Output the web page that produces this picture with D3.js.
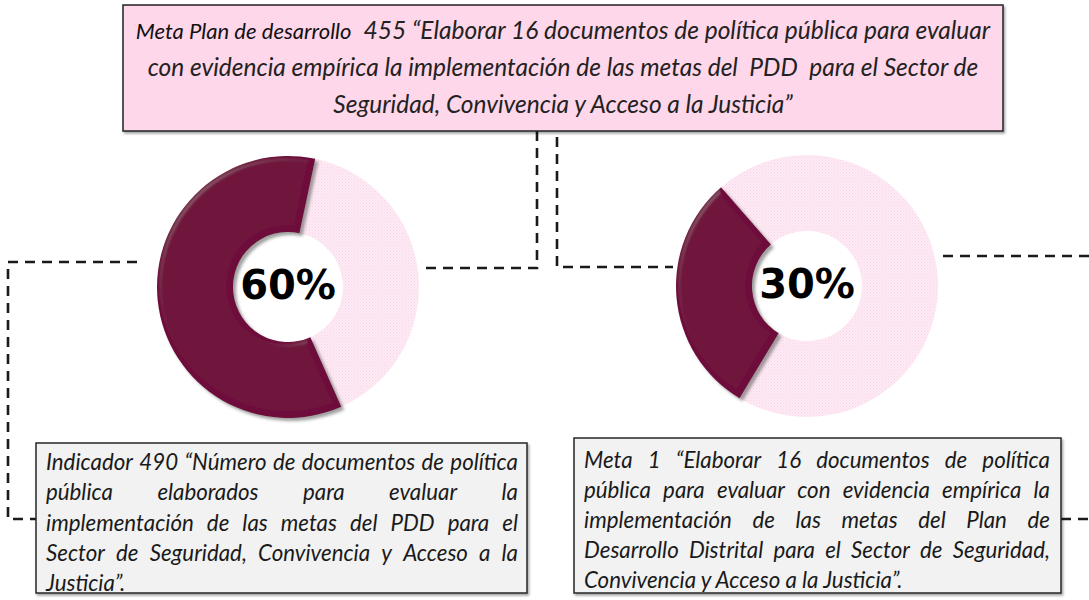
<!DOCTYPE html>
<html>
<head>
<meta charset="utf-8">
<script src="https://cdn.jsdelivr.net/npm/d3@7"></script>
<style>
  body { margin: 0; background: #fff; }
  svg { display: block; }
  text { white-space: pre; }
</style>
</head>
<body>
<svg width="1089" height="600"></svg>
<script>
// datos
var indicadores = ["Indicador 490", "Meta 1"]
var avance = [60, 30]
var pendiente = [40, 70]
var etiquetas = ["60%", "30%"]

var tituloPrefijo = "Meta Plan de desarrollo"
var tituloLineas = [
  "455 “Elaborar 16 documentos de política pública para evaluar",
  "con evidencia empírica la implementación de las metas del  PDD  para el Sector de",
  "Seguridad, Convivencia y Acceso a la Justicia”"
]
var textoIndicador = [
  "Indicador 490 “Número de documentos de política",
  "pública elaborados para evaluar la",
  "implementación de las metas del PDD para el",
  "Sector de Seguridad, Convivencia y Acceso a la",
  "Justicia”."
]
var textoMeta = [
  "Meta 1 “Elaborar 16 documentos de política",
  "pública para evaluar con evidencia empírica la",
  "implementación de las metas del Plan de",
  "Desarrollo Distrital para el Sector de Seguridad,",
  "Convivencia y Acceso a la Justicia”."
]

var svg = d3.select("svg")
var fuente = "Lato, 'Open Sans', sans-serif"
var defs = svg.append("defs")

// pink dotted texture
var pat = defs.append("pattern").attr("id", "rosa").attr("patternUnits", "userSpaceOnUse")
  .attr("width", 3).attr("height", 3)
pat.append("rect").attr("width", 3).attr("height", 3).attr("fill", "#fdeaf4")
pat.append("rect").attr("width", 1).attr("height", 1).attr("fill", "#f9d3e6")
pat.append("rect").attr("x", 1.5).attr("y", 1.5).attr("width", 1).attr("height", 1).attr("fill", "#fadbea")

// bevel + shadow for the dark slice
var f = defs.append("filter").attr("id", "bisel").attr("x", "-20%").attr("y", "-20%").attr("width", "140%").attr("height", "140%")
f.append("feGaussianBlur").attr("in", "SourceAlpha").attr("stdDeviation", 2.5).attr("result", "blur")
var spec = f.append("feSpecularLighting").attr("in", "blur").attr("surfaceScale", 3)
  .attr("specularConstant", 0.6).attr("specularExponent", 25).attr("lighting-color", "#fff").attr("result", "spec")
spec.append("feDistantLight").attr("azimuth", 225).attr("elevation", 35)
f.append("feComposite").attr("in", "spec").attr("in2", "SourceAlpha").attr("operator", "in").attr("result", "specIn")
f.append("feComposite").attr("in", "SourceGraphic").attr("in2", "specIn").attr("operator", "arithmetic")
  .attr("k1", 0).attr("k2", 1).attr("k3", 0.12).attr("k4", 0).attr("result", "lit")
f.append("feGaussianBlur").attr("in", "SourceAlpha").attr("stdDeviation", 1.8).attr("result", "sb")
f.append("feOffset").attr("in", "sb").attr("dx", 3).attr("dy", 3).attr("result", "so")
f.append("feFlood").attr("flood-color", "#555").attr("flood-opacity", 0.55)
f.append("feComposite").attr("in2", "so").attr("operator", "in").attr("result", "shadow")
var m = f.append("feMerge")
m.append("feMergeNode").attr("in", "shadow")
m.append("feMergeNode").attr("in", "lit")

var sh = defs.append("filter").attr("id", "sombra").attr("x", "-5%").attr("y", "-5%").attr("width", "110%").attr("height", "115%")
sh.append("feDropShadow").attr("dx", 1.5).attr("dy", 2).attr("stdDeviation", 1.2)
  .attr("flood-color", "#000").attr("flood-opacity", 0.35)

// dashed connectors
var conectores = [
  [[137, 262], [8, 262], [8, 519], [36, 519]],
  [[537, 131], [537, 268], [420, 268]],
  [[557, 137], [557, 267], [673, 267]],
  [[943, 256], [1089, 256]],
  [[1061, 519], [1089, 519]]
]
svg.append("g").selectAll("path").data(conectores).join("path")
  .attr("d", d3.line())
  .attr("fill", "none").attr("stroke", "#1a1a1a").attr("stroke-width", 2.6)
  .attr("stroke-dasharray", "10,7")

// title box
svg.append("rect").attr("x", 123).attr("y", 5).attr("width", 880).attr("height", 126)
  .attr("fill", "#ffd7ea").attr("stroke", "#222").attr("stroke-width", 1.5)
  .attr("filter", "url(#sombra)")

var gTit = svg.append("g").attr("font-family", fuente).attr("font-style", "italic").attr("fill", "#222")
var lineasTit = gTit.selectAll("text").data(tituloLineas).join("text")
  .attr("text-anchor", function(d, i) { return i == 0 ? "start" : "middle" })
  .attr("x", 563).attr("y", function(d, i) { return 39 + i * 37 })
  .attr("font-size", 22).text(function(d) { return d })
var prefijo = gTit.append("text").attr("y", 39).attr("font-size", 22).attr("fill", "#111").text(tituloPrefijo)

// title size: second line ~843px, first line ~855px with a slightly smaller lead-in
var hueco = 12, escalaPre = 0.9
var wPre22 = prefijo.node().getComputedTextLength()
var wMain22 = lineasTit.nodes()[0].getComputedTextLength()
var fs2 = 22 * 843 / lineasTit.nodes()[1].getComputedTextLength()
var fs1 = 22 * (855 - hueco) / (escalaPre * wPre22 + wMain22)
var fsTit = Math.min(fs1, fs2)
lineasTit.attr("font-size", fsTit)
prefijo.attr("font-size", fsTit * escalaPre)
var wMain = lineasTit.nodes()[0].getComputedTextLength()
var wPre = prefijo.node().getComputedTextLength()
var x0 = 563 - (wPre + hueco + wMain) / 2
prefijo.attr("x", x0)
d3.select(lineasTit.nodes()[0]).attr("x", x0 + wPre + hueco)

// donuts
var centros = [[288, 287], [807, 286]]
var inicio = [156, 211] // rotation of first slice, degrees
var arc = d3.arc().innerRadius(55).outerRadius(131)
var colores = ["#6e0a3b", "url(#rosa)"]

indicadores.forEach(function(name, i) {
  var g = svg.append("g").attr("transform", "translate(" + centros[i] + ")")
  var a0 = inicio[i] * Math.PI / 180
  var pie = d3.pie().sort(null).startAngle(a0).endAngle(a0 + 2 * Math.PI)
  var slices = pie([avance[i], pendiente[i]])
  g.append("path").datum(slices[1]).attr("d", arc).attr("fill", colores[1])
  g.append("path").datum(slices[0]).attr("d", arc).attr("fill", colores[0])
    .attr("filter", "url(#bisel)")
  g.append("text").attr("text-anchor", "middle").attr("y", 12)
    .attr("font-family", "'DejaVu Sans', sans-serif").attr("font-weight", "bold")
    .attr("font-size", 40).attr("fill", "#000").text(etiquetas[i])
})

// bottom boxes with justified text
var medidor = svg.append("text").attr("font-family", fuente).attr("font-style", "italic")
  .attr("font-size", 20).attr("visibility", "hidden")
function medir(s) { medidor.text(s); return medidor.node().getComputedTextLength() }

// largest size that lets every justified line fit
var fsCaja = d3.min([
  d3.min(textoIndicador.slice(0, 4), function(l) { return 20 * 472 * 0.985 / medir(l) }),
  d3.min(textoMeta.slice(0, 4), function(l) { return 20 * 466 * 0.985 / medir(l) })
])
medidor.attr("font-size", fsCaja)

function caja(x, y, w, h, lineas, tx0, tx1, base0, paso) {
  svg.append("rect").attr("x", x).attr("y", y).attr("width", w).attr("height", h)
    .attr("fill", "#f2f2f2").attr("stroke", "#262626").attr("stroke-width", 1.5)
    .attr("filter", "url(#sombra)")
  var t = svg.append("text").attr("font-family", fuente).attr("font-style", "italic")
    .attr("font-size", fsCaja).attr("fill", "#1a1a1a")
  lineas.forEach(function(linea, i) {
    var palabras = linea.split(" ")
    var yy = base0 + i * paso
    if (i == lineas.length - 1) {
      t.append("tspan").attr("x", tx0).attr("y", yy).text(linea)
      return
    }
    var anchos = palabras.map(function(p) { return medir(p) })
    var total = d3.sum(anchos)
    var gap = (tx1 - tx0 - total) / (palabras.length - 1)
    var xx = tx0
    palabras.forEach(function(p, j) {
      t.append("tspan").attr("x", xx).attr("y", yy).text(p)
      xx += anchos[j] + gap
    })
  })
}

caja(36, 443, 491, 150, textoIndicador, 46, 518, 470, 30.25)
caja(574, 438, 487, 155, textoMeta, 584, 1050, 468, 30)
medidor.remove()
</script>
</body>
</html>
